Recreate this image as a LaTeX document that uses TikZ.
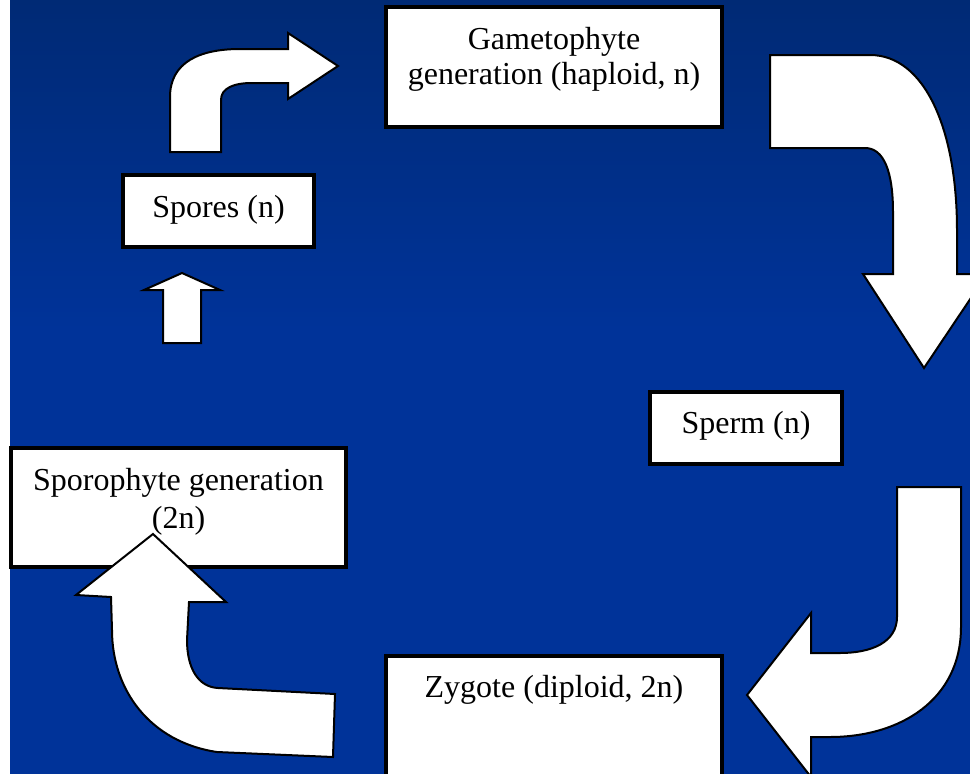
\documentclass[tikz,border=0pt]{standalone}
\usepackage{fontspec}
\setmainfont{Liberation Serif}
\definecolor{bgtop}{RGB}{0,42,117}
\definecolor{bgmain}{RGB}{0,51,153}
\begin{document}
\begin{tikzpicture}[x=1pt,y=-1pt,
  box/.style={draw=black,line width=4pt,fill=white,inner sep=0pt},
  lbl/.style={inner sep=0pt,anchor=base,font=\fontsize{32}{37}\selectfont,text=black},
  blockarrow/.style={draw=black,line width=2pt,fill=white,line join=miter,miter limit=10}]
\useasboundingbox (0,0) rectangle (970,774);
\clip (0,0) rectangle (970,774);
% background
\fill[white] (0,0) rectangle (970,774);
\shade[top color=bgtop,bottom color=bgmain] (10,0) rectangle (970,330);
\fill[bgmain] (10,329) rectangle (970,774);

% boxes
\node[box,minimum width=336pt,minimum height=120pt] (gam) at (554,67) {};
\node[box,minimum width=191pt,minimum height=72pt] (spo) at (218.5,211) {};
\node[box,minimum width=192pt,minimum height=72pt] (sperm) at (746,428) {};
\node[box,minimum width=335pt,minimum height=119pt] (sporo) at (178.5,507.5) {};
\node[box,minimum width=336pt,minimum height=144pt] (zyg) at (554,728) {};

% block arrows
% spores -> gametophyte (bent up-right)
\draw[blockarrow] (170,152) -- (170,97) .. controls (170,62) and (200,49) .. (240,49)
  -- (288,49) -- (288,33) -- (338,66) -- (288,99) -- (288,83) -- (252,83)
  .. controls (234,83) and (221,88) .. (221,100) -- (221,152) -- cycle;
% small up arrow below spores
\draw[blockarrow] (163,343) -- (163,290) -- (144,290) -- (182,273) -- (220,290)
  -- (201,290) -- (201,343) -- cycle;
% gametophyte -> sperm (bent down)
\draw[blockarrow] (770,55) -- (870,55) .. controls (925,55) and (957,130) .. (957,230)
  -- (957,274) -- (987,274) -- (924,368) -- (863,274) -- (893,274) -- (893,212)
  .. controls (893,172) and (884,148) .. (865,148) -- (770,148) -- cycle;
% sperm -> zygote (J-shaped, pointing left)
\draw[blockarrow] (897,487) -- (961,487) -- (961,627) .. controls (961,700) and (900,737) .. (830,737)
  -- (811,737) -- (811,777) -- (747,695) -- (811,613) -- (811,653) -- (840,653)
  .. controls (872,653) and (897,642) .. (897,617) -- cycle;
% zygote -> sporophyte (curved, pointing up)
\draw[blockarrow] (333,757) -- (217,752) .. controls (150,742) and (112,690) .. (112,630)
  -- (111,597) -- (76,595) -- (153,534) -- (226,602) -- (189,602) -- (187,640)
  .. controls (187,668) and (198,687) .. (218,688) -- (335,694) -- cycle;

% texts
\node[lbl] (gamt1) at (554,49) {Gametophyte};
\node[lbl] (gamt2) at (554,84) {generation (haploid, n)};
\node[lbl] (spot) at (218.5,217) {Spores (n)};
\node[lbl] (spermt) at (746,433) {Sperm (n)};
\node[lbl] (sporot1) at (178.5,490) {Sporophyte generation};
\node[lbl] (sporot2) at (178.5,528) {(2n)};
\node[lbl] (zygt) at (554,697) {Zygote (diploid, 2n)};
\end{tikzpicture}
\end{document}
